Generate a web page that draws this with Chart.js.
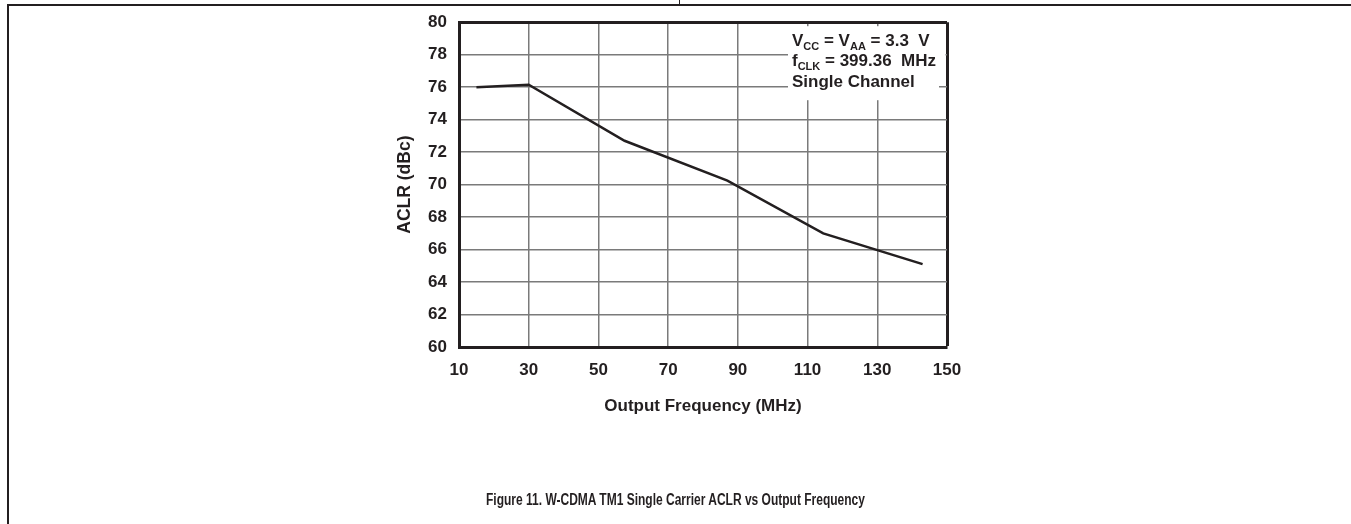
<!DOCTYPE html>
<html>
<head>
<meta charset="utf-8">
<title>ACLR vs Output Frequency</title>
<script src="https://cdn.jsdelivr.net/npm/chart.js@4.4.1/dist/chart.umd.min.js"></script>
<style>
  html, body { margin: 0; padding: 0; background: #fff; overflow: hidden; }
  body { width: 1351px; height: 524px; position: relative; font-family: "Liberation Sans", Arial, sans-serif; }
  .rule { position: absolute; background: #231f20; }
  #chartBox { position: absolute; left: 0; top: 0; width: 1351px; height: 524px; }
  #caption {
    position: absolute; left: 0; width: 1351px; top: 491px;
    text-align: center; font-weight: bold; font-size: 16px; color: #231f20;
    transform: scaleX(0.75); transform-origin: 675.5px 0;
  }
</style>
</head>
<body>
<div class="rule" style="left:8px; top:4px; width:1343px; height:2px;"></div>
<div class="rule" style="left:7px; top:4px; width:2px; height:520px;"></div>
<div class="rule" style="left:679px; top:0; width:1px; height:5px;"></div>
<div id="chartBox"><canvas id="aclrChart" width="1351" height="524"></canvas></div>
<div id="caption">Figure 11. W-CDMA TM1 Single Carrier ACLR vs Output Frequency</div>

<script>
// values
const outputFreqMHz = [15, 30, 57.5, 87, 114.5, 143];
const aclrDbc = [76.0, 76.15, 72.7, 70.25, 67.0, 65.1];

const xTicks = [10, 30, 50, 70, 90, 110, 130, 150];
const yTicks = [60, 62, 64, 66, 68, 70, 72, 74, 76, 78, 80];

const INK = "#231f20";
const GRID = "#7a7a7a";
const FONT = "'Liberation Sans', Arial, sans-serif";

// condition box in the top right corner, with subscripts
const noteLines = [
  [["V", false], ["CC", true], [" = V", false], ["AA", true], [" = 3.3  V", false]],
  [["f", false], ["CLK", true], [" = 399.36  MHz", false]],
  [["Single Channel", false]]
];

const noteBox = {
  id: "noteBox",
  afterDatasetsDraw(chart) {
    const { ctx, chartArea } = chart;
    const left = chartArea.right - 155;
    const top = chartArea.top;

    ctx.save();
    ctx.fillStyle = "#fff";
    ctx.fillRect(left - 4, top + 4, chartArea.right - 8 - (left - 4), 74);
    ctx.fillRect(left - 4, top + 30, chartArea.right - 1.5 - (left - 4), 24);

    ctx.fillStyle = INK;
    ctx.textBaseline = "alphabetic";
    const baselines = [top + 24, top + 44, top + 65];
    noteLines.forEach((parts, i) => {
      let x = left;
      parts.forEach(([text, sub]) => {
        ctx.font = sub ? `bold 11px ${FONT}` : `bold 17px ${FONT}`;
        ctx.fillText(text, x, baselines[i] + (sub ? 4 : 0));
        x += ctx.measureText(text).width;
      });
    });
    ctx.restore();
  }
};

const edgeColor = (value, edge) => (value === edge ? INK : GRID);
const edgeWidth = (value, edge) => (value === edge ? 3 : 1.5);

new Chart(document.getElementById("aclrChart"), {
  type: "line",
  data: {
    datasets: [
      {
        data: outputFreqMHz.map((f, i) => ({ x: f, y: aclrDbc[i] })),
        borderColor: INK,
        borderWidth: 2.5,
        pointRadius: 0,
        tension: 0,
        fill: false
      }
    ]
  },
  options: {
    responsive: false,
    animation: false,
    layout: { padding: { left: 379, top: 19, right: 404, bottom: 97 } },
    plugins: {
      legend: { display: false },
      tooltip: { enabled: false }
    },
    scales: {
      x: {
        type: "linear",
        min: xTicks[0],
        max: xTicks[xTicks.length - 1],
        afterFit: (scale) => { scale.height = 80; },
        afterBuildTicks: (scale) => { scale.ticks = xTicks.map(v => ({ value: v })); },
        ticks: {
          color: INK,
          padding: 13,
          maxRotation: 0,
          font: { family: FONT, size: 17, weight: "bold" }
        },
        grid: {
          drawTicks: false,
          color: (c) => edgeColor(c.tick && c.tick.value, 150),
          lineWidth: (c) => edgeWidth(c.tick && c.tick.value, 150)
        },
        border: { display: true, color: INK, width: 3 },
        title: {
          display: true,
          text: "Output Frequency (MHz)",
          color: INK,
          padding: { top: 0, bottom: 10 },
          font: { family: FONT, size: 17, weight: "bold" }
        }
      },
      y: {
        min: yTicks[0],
        max: yTicks[yTicks.length - 1],
        afterFit: (scale) => { scale.width = 80; },
        afterBuildTicks: (scale) => { scale.ticks = yTicks.map(v => ({ value: v })); },
        ticks: {
          color: INK,
          padding: 12,
          font: { family: FONT, size: 17, weight: "bold" }
        },
        grid: {
          drawTicks: false,
          color: (c) => edgeColor(c.tick && c.tick.value, 80),
          lineWidth: (c) => edgeWidth(c.tick && c.tick.value, 80)
        },
        border: { display: true, color: INK, width: 3 },
        title: {
          display: true,
          text: "ACLR (dBc)",
          color: INK,
          padding: { top: 16, bottom: 0 },
          font: { family: FONT, size: 17.5, weight: "bold" }
        }
      }
    }
  },
  plugins: [noteBox]
});
</script>
</body>
</html>
